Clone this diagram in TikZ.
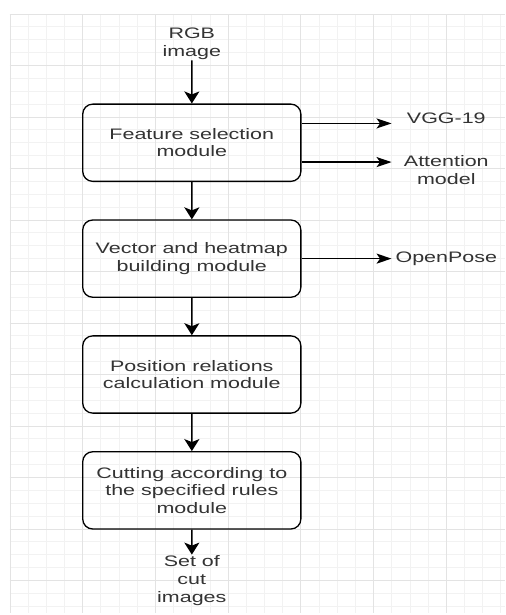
\documentclass[tikz,border=0pt]{standalone}
\usepackage{fontspec}
\setmainfont{Liberation Sans}
\usetikzlibrary{positioning, calc, arrows.meta}
\newcommand{\diagfont}{\fontsize{15.2pt}{17.6pt}\selectfont}

\begin{document}
\begin{tikzpicture}[x=1.2875pt, y=-1.2875pt, xscale=1.412, transform shape,
    gridminor/.style={draw=black!5, line width=0.8pt},
    gridmajor/.style={draw=black!11, line width=0.9pt},
    module/.style={draw, line width=1.3pt, rounded corners=10pt, minimum width=154.5pt,
      minimum height=77.25pt, align=center, font=\diagfont, text=black!80},
    lbl/.style={align=center, font=\diagfont, text=black!80, inner sep=1pt},
    sidelbl/.style={lbl, minimum width=77.25pt, inner sep=0pt},
    down/.style={line width=1.6pt, -{Stealth[length=12pt, width=15pt, inset=3pt]}},
    side/.style={line width=1.5pt, -{Stealth[length=15pt, width=10pt, inset=3.5pt]}}]
      % page and grid
      \useasboundingbox[fill=white] (-5.5,-10.87) rectangle (272.3,466.8);
      \foreach \u in {0,10,...,270} \draw[gridminor] (\u,0) -- (\u,465.2);
      \foreach \v in {0,10,...,460} \draw[gridminor] (0,\v) -- (272.3,\v);
      \foreach \u in {0,40,...,240} \draw[gridmajor] (\u,0) -- (\u,465.2);
      \foreach \v in {0,40,...,440} \draw[gridmajor] (0,\v) -- (272.3,\v);

      % main chain
      \node[lbl] (rgb) at (100,23) {RGB\\image};
      \node[module] (feat) at (100,100) {Feature selection\\module};
      \node[module] (heat) at (100,190) {Vector and heatmap\\building module};
      \node[module] (pos) at (100,280) {Position relations\\calculation module};
      \node[module] (cut) at (100,370) {Cutting according to\\the specified rules\\module};
      \node[lbl] (res) at (100,440) {Set of\\cut\\images};

      % side outputs
      \node[sidelbl] (vgg) at (240,81) {VGG-19};
      \node[sidelbl] (att) at (240,121) {Attention\\model};
      \node[sidelbl] (pose) at (240,190) {OpenPose};

      \draw[down] (rgb) -- (feat);
      \draw[down] (feat) -- (heat);
      \draw[down] (heat) -- (pos);
      \draw[down] (pos) -- (cut);
      \draw[down] (cut) -- (res);

      \draw[side] (feat.east) ++(0,-15) coordinate (o1) -- (o1 -| vgg.west);
      \draw[side] (feat.east) ++(0,15) coordinate (o2) -- (o2 -| att.west);
      \draw[side] (heat) -- (pose);
\end{tikzpicture}
\end{document}
